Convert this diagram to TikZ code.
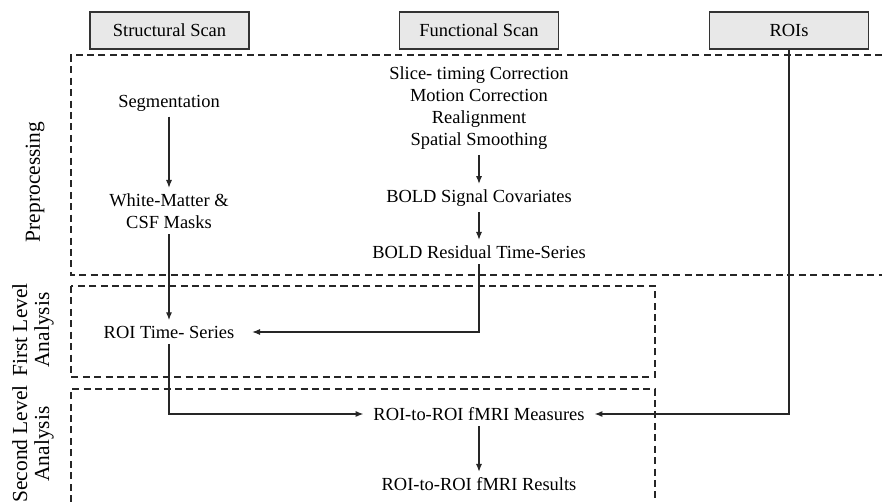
\documentclass[tikz,border=0pt]{standalone}
\usepackage{fontspec}
\setmainfont{Liberation Serif}
\usetikzlibrary{calc, arrows.meta}
\tikzset{
    scanbox/.style={draw=black!80, fill=black!9, line width=0.8pt, minimum width=3.18cm, minimum height=0.74cm},
    txt/.style={align=center, inner sep=3pt},
    stagelabel/.style={rotate=90, align=center, font=\fontsize{12.2}{12.6}\selectfont},
    flow/.style={-{Latex[length=4.5pt,width=3.5pt]}, line width=0.7pt, black!85},
    stage/.style={dash pattern=on 4pt off 2.5pt, line width=0.7pt, black!85},
}

\begin{document}
\begin{tikzpicture}[x=0.02cm, y=-0.02cm, font=\fontsize{10.5}{12.5}\selectfont]
            \useasboundingbox (0,0) rectangle (882,502);
            % scans
            \node[scanbox] (struct) at (169.5,30.5) {Structural Scan};
            \node[scanbox] (func) at (479,30.5) {Functional Scan};
            \node[scanbox] (rois) at (789,30.5) {ROIs};

            % stages
            \draw[stage] (882,55)--(71,55)--(71,275)--(882,275);
            \draw[stage] (71,286) rectangle (655,377);
            \draw[stage] (71,502)--(71,389)--(655,389)--(655,502);
            \node[stagelabel] (prep) at (35,182) {Preprocessing};
            \node[stagelabel] (first) at (33,330) {First Level\\Analysis};
            \node[stagelabel] (second) at (33,444) {Second Level\\Analysis};

            % steps
            \node[txt] (seg) at (169,103) {Segmentation};
            \node[txt] (wm) at (169,211) {White-Matter \&\\CSF Masks};
            \node[txt] (corr) at (479,108) {Slice- timing Correction\\Motion Correction\\Realignment\\Spatial Smoothing};
            \node[txt] (cov) at (479,198) {BOLD Signal Covariates};
            \node[txt] (resid) at (479,252) {BOLD Residual Time-Series};
            \node[txt] (rts) at (169,332) {ROI Time- Series};
            \node[txt] (meas) at (479,414) {ROI-to-ROI fMRI Measures};
            \node[txt] (res) at (479,484) {ROI-to-ROI fMRI Results};

            \draw[flow] (seg)--(wm);
            \draw[flow] (corr)--(cov);
            \draw[flow] (cov)--(resid);
            \draw[flow] (wm)--(rts);
            \draw[flow, shorten >=7pt] (resid) |- (rts);
            \draw[flow, shorten >=2.5pt] (rts) |- (meas);
            \draw[flow, shorten >=2.5pt] (rois) |- (meas);
            \draw[flow] (meas)--(res);
        \end{tikzpicture}
\end{document}
